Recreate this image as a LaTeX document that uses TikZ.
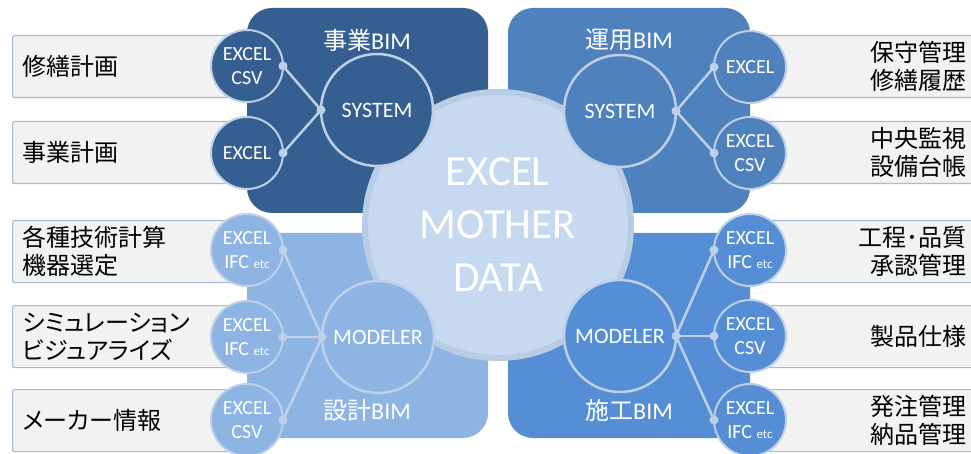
\documentclass[tikz,border=0pt]{standalone}
\usepackage{fontspec}
\setmainfont{Carlito}
\newfontfamily\jpfont{Noto Sans CJK JP}
\newfontfamily\jpboxfont[RawFeature=+palt]{Noto Sans CJK JP}
\usetikzlibrary{calc}
\definecolor{jigyo}{RGB}{54,95,145}
\definecolor{unyo}{RGB}{79,129,189}
\definecolor{sekkei}{RGB}{141,180,226}
\definecolor{seko}{RGB}{85,142,213}
\definecolor{mother}{RGB}{198,217,241}
\definecolor{motherrim}{RGB}{184,204,228}
\definecolor{wirecol}{RGB}{189,208,232}
\definecolor{boxrim}{RGB}{166,188,214}
\newcommand{\ifcetc}{IFC {\fontsize{13}{13}\selectfont etc}}

\begin{document}
\begin{tikzpicture}[x=1pt, y=-1pt,
    panel/.style={rounded corners=25pt},
    infobox/.style={draw=boxrim, line width=1.2pt, fill=black!5, rounded corners=2pt, minimum height=62pt, inner xsep=10pt, inner ysep=0pt, font=\jpboxfont\fontsize{24}{28}\selectfont},
    leftbox/.style={infobox, anchor=north west, text width=230pt, align=left},
    rightbox/.style={infobox, anchor=north west, text width=216pt, align=right},
    fmt/.style={circle, draw=wirecol, line width=2pt, minimum size=72pt, inner sep=0pt, outer sep=0pt, text=white, align=center, font=\fontsize{20}{24}\selectfont},
    tool/.style={circle, draw=wirecol, line width=2.5pt, minimum size=112pt, inner sep=0pt, outer sep=0pt, text=white, font=\fontsize{22}{24}\selectfont},
    wire/.style={draw=wirecol, line width=2.5pt},
    bimlabel/.style={text=white, font=\fontsize{24}{26}\selectfont}]
    \useasboundingbox (0,0) rectangle (971,454);
    \clip (0,0) rectangle (971,454);
    % boxes on the left
    \node[leftbox] (shuzen) at (12,35) {修繕計画};
    \node[leftbox] (jigyokei) at (12,121) {事業計画};
    \node[leftbox] (gijutsu) at (12,220) {各種技術計算\\機器選定};
    \node[leftbox] (simu) at (12,305) {シミュレーション\\ビジュアライズ};
    \node[leftbox] (maker) at (12,389) {メーカー情報};
    % boxes on the right
    \node[rightbox] (hoshu) at (740,35) {保守管理\\修繕履歴};
    \node[rightbox] (kanshi) at (740,121) {中央監視\\設備台帳};
    \node[rightbox] (kotei) at (740,220) {工程･品質\\承認管理};
    \node[rightbox] (seihin) at (740,305) {製品仕様};
    \node[rightbox] (hatchu) at (740,389) {発注管理\\納品管理};
    % the four BIM panels
    \fill[jigyo, panel] (247,8) rectangle (488,213);
    \fill[unyo, panel] (508,8) rectangle (750,213);
    \fill[sekkei, panel] (247,233) rectangle (488,438);
    \fill[seko, panel] (508,233) rectangle (750,438);
    \node[bimlabel] (jigyolbl) at (367,40) {{\jpfont 事業}BIM};
    \node[bimlabel] (unyolbl) at (629,40) {{\jpfont 運用}BIM};
    \node[bimlabel] (sekkeilbl) at (367,410) {{\jpfont 設計}BIM};
    \node[bimlabel] (sekolbl) at (629,410) {{\jpfont 施工}BIM};
    % mother data
    \node[circle, fill=mother, draw=motherrim, line width=6pt, minimum size=266pt, text=white, align=center, font=\fontsize{43}{53}\selectfont] (mother) at (498,225) {EXCEL\\MOTHER\\DATA};
    % data formats
    \node[fmt, fill=jigyo] (fa1) at (247,66) {EXCEL\\CSV};
    \node[fmt, fill=jigyo] (fa2) at (247,153) {EXCEL};
    \node[fmt, fill=unyo] (fb1) at (750,67) {EXCEL};
    \node[fmt, fill=unyo] (fb2) at (750,153) {EXCEL\\CSV};
    \node[fmt, fill=sekkei] (fc1) at (247,250) {EXCEL\\\ifcetc};
    \node[fmt, fill=sekkei] (fc2) at (247,337) {EXCEL\\\ifcetc};
    \node[fmt, fill=sekkei] (fc3) at (247,420) {EXCEL\\CSV};
    \node[fmt, fill=seko] (fd1) at (750,250) {EXCEL\\\ifcetc};
    \node[fmt, fill=seko] (fd2) at (750,336) {EXCEL\\CSV};
    \node[fmt, fill=seko] (fd3) at (750,420) {EXCEL\\\ifcetc};
    % tools
    \node[tool, fill=jigyo] (sysA) at (377,110) {SYSTEM};
    \node[tool, fill=unyo] (sysB) at (620,111) {SYSTEM};
    \node[tool, fill=sekkei] (modC) at (378,337) {MODELER};
    \node[tool, fill=seko] (modD) at (620,336) {MODELER};
    % connectors
    \draw[wire] (fa1.east) -- (sysA.west) -- (fa2.east);
    \draw[wire] (fb1.west) -- (sysB.east) -- (fb2.west);
    \draw[wire] (fc1.east) -- (modC.west) -- (fc3.east);
    \draw[wire] (fc2.east) -- (modC.west);
    \draw[wire] (fd1.west) -- (modD.east) -- (fd3.west);
    \draw[wire] (fd2.west) -- (modD.east);
    \fill[wirecol] (sysA.west) circle (4.5pt) (fa1.east) circle (4.5pt) (fa2.east) circle (4.5pt);
    \fill[wirecol] (sysB.east) circle (4.5pt) (fb1.west) circle (4.5pt) (fb2.west) circle (4.5pt);
    \fill[wirecol] (modC.west) circle (4.5pt) (fc1.east) circle (4.5pt) (fc2.east) circle (4.5pt) (fc3.east) circle (4.5pt);
    \fill[wirecol] (modD.east) circle (4.5pt) (fd1.west) circle (4.5pt) (fd2.west) circle (4.5pt) (fd3.west) circle (4.5pt);
\end{tikzpicture}
\end{document}
